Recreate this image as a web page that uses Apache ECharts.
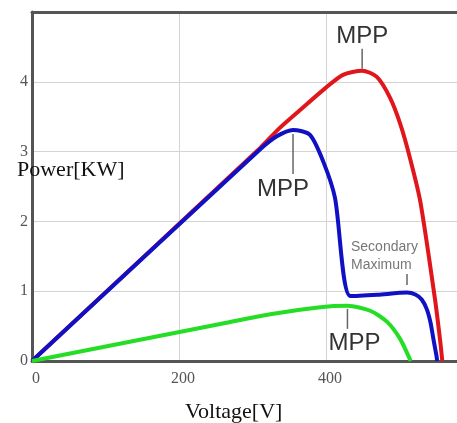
<!DOCTYPE html>
<html>
  <head>
    <meta http-equiv="Content-Type" content="text/html; charset=utf-8">
    <title>PV power curves</title>
    <style>
      html, body { margin: 0; padding: 0; background: #fff; }
      #chart { width: 457px; height: 423px; }
    </style>
    <script src="https://cdn.jsdelivr.net/npm/echarts@6/dist/echarts.min.js"></script>
  </head>
  <body>
    <div id="chart"></div>
    <script type="text/javascript">
      // voltage [V] / power [KW] pairs
      var redVolt   = [0, 310, 337, 365, 399, 423, 449, 469, 487, 501, 514, 528, 548, 555, 558];
      var redPower  = [0, 3.05, 3.34, 3.6, 3.91, 4.1, 4.16, 4.07, 3.77, 3.39, 2.91, 2.29, 0.89, 0.3, 0];
      var blueVolt  = [0, 310, 333, 355, 378, 396, 412, 433, 470, 510, 522, 530, 537, 542, 546, 550, 551];
      var bluePower = [0, 3.03, 3.22, 3.31, 3.24, 2.86, 2.34, 0.93, 0.95, 0.98, 0.95, 0.88, 0.74, 0.55, 0.31, 0.08, 0];
      var greenVolt  = [0, 256, 324, 392, 429, 460, 483, 501, 515];
      var greenPower = [0, 0.53, 0.67, 0.77, 0.79, 0.72, 0.56, 0.31, 0];
      var xTicks = [0, 200, 400];
      var yTicks = [0, 1, 2, 3, 4];

      function pairs(xs, ys) {
        return xs.map(function (x, i) { return [x, ys[i]]; });
      }
      // local maximum of the blue curve on its second plateau
      function secondMax() {
        var best = null;
        blueVolt.forEach(function (v, i) {
          if (v > 430 && (!best || bluePower[i] > best[1])) best = [v, bluePower[i]];
        });
        return best;
      }

      var mppLabel = {
        show: true, formatter: 'MPP', color: '#333',
        fontFamily: 'Liberation Sans', fontSize: 24, distance: 3
      };
      var leader = { color: '#666' };

      var myChart = echarts.init(document.getElementById('chart'));
      myChart.setOption({
        animation: false,
        backgroundColor: '#fff',
        grid: { left: 32, right: 0, top: 12, bottom: 62 },
        xAxis: [{
          type: 'value', min: 0, max: 578, interval: 200,
          axisLine: { lineStyle: { color: '#555', width: 3 } },
          axisTick: { show: false },
          axisLabel: {
            showMaxLabel: false, color: '#555', fontFamily: 'Liberation Serif',
            fontSize: 16, margin: 10, padding: [0, 0, 0, 8],
            formatter: function (v) { return xTicks.indexOf(v) >= 0 ? String(v) : ''; }
          },
          splitLine: { show: true, lineStyle: { color: '#d4d4d4', width: 1 } }
        }, {
          type: 'value', position: 'top', min: 0, max: 578,
          axisLine: { show: true, lineStyle: { color: '#555', width: 3 } },
          axisTick: { show: false }, axisLabel: { show: false }, splitLine: { show: false }
        }],
        yAxis: {
          type: 'value', min: 0, max: 5, interval: 1,
          axisLine: { show: true, lineStyle: { color: '#555', width: 3 } },
          axisTick: { show: false },
          axisLabel: {
            showMaxLabel: false, color: '#555', fontFamily: 'Liberation Serif',
            fontSize: 16, margin: 4, padding: [8, 0, 0, 0],
            formatter: function (v) { return yTicks.indexOf(v) >= 0 ? String(v) : ''; }
          },
          splitLine: { show: true, lineStyle: { color: '#d4d4d4', width: 1 } }
        },
        graphic: [
          { type: 'text', left: 17, top: 159, z: 100,
            style: { text: 'Power[KW]', font: '22px "Liberation Serif"', fill: '#111' } },
          { type: 'text', left: 185, top: 401,
            style: { text: 'Voltage[V]', font: '22px "Liberation Serif"', fill: '#111' } }
        ],
        series: [{
          type: 'line', data: pairs(redVolt, redPower), showSymbol: false,
          smooth: 0.25,
          lineStyle: { color: '#e0161c', width: 4 },
          markPoint: {
            data: [{ type: 'max', symbol: 'rect', symbolSize: [1.5, 20], symbolOffset: [0, -12],
                     itemStyle: leader,
                     label: Object.assign({}, mppLabel, { position: 'top', distance: 0 }) }]
          }
        }, {
          type: 'line', data: pairs(blueVolt, bluePower), showSymbol: false,
          smooth: 0.25,
          lineStyle: { color: '#1010c4', width: 4 },
          markPoint: {
            data: [{ type: 'max', symbol: 'rect', symbolSize: [1.5, 40], symbolOffset: [0, 24],
                     itemStyle: leader,
                     label: Object.assign({}, mppLabel, { position: 'bottom', offset: [-10, 0] }) },
                   { coord: secondMax(), symbol: 'rect', symbolSize: [1.5, 11], symbolOffset: [0, -13],
                     itemStyle: leader,
                     label: { show: true, position: 'top', formatter: 'Secondary\nMaximum',
                              align: 'left', offset: [-56, 0], distance: 0, lineHeight: 18,
                              color: '#777', fontFamily: 'Liberation Sans', fontSize: 14 } }]
          }
        }, {
          type: 'line', data: pairs(greenVolt, greenPower), showSymbol: false,
          smooth: 0.25,
          lineStyle: { color: '#26dd26', width: 4 },
          markPoint: {
            data: [{ type: 'max', symbol: 'rect', symbolSize: [1.5, 20], symbolOffset: [0, 13],
                     itemStyle: leader,
                     label: Object.assign({}, mppLabel, { position: 'bottom', offset: [7, 0] }) }]
          }
        }]
      });
    </script>
  </body>
</html>
